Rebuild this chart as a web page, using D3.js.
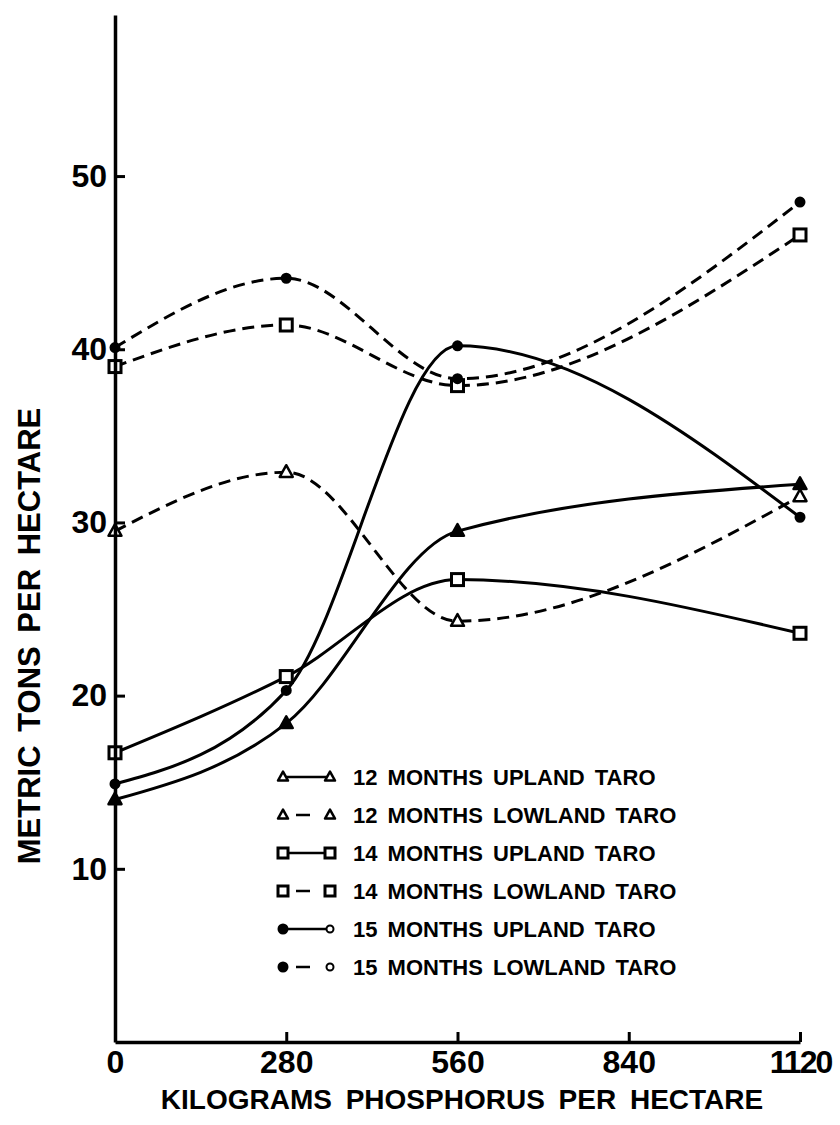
<!DOCTYPE html>
<html>
<head>
<meta charset="utf-8">
<script src="https://cdn.jsdelivr.net/npm/d3@7"></script>
<style>
  body { margin: 0; background: #fff; }
  svg { display: block; }
</style>
</head>
<body>
<script>
// phosphorus levels (kg/ha) where yields were measured
const doseLevels = [0, 280, 560, 1120];
const xTicks = [0, 280, 560, 840, 1120];
const yTicks = [10, 20, 30, 40, 50];

// yields, metric tons per hectare
const upland12 = [14.0, 18.4, 29.5, 32.2];
const lowland12 = [29.5, 32.9, 24.3, 31.5];
const upland14 = [16.7, 21.1, 26.7, 23.6];
const lowland14 = [39.0, 41.4, 37.9, 46.6];
const upland15 = [14.9, 20.3, 40.2, 30.3];
const lowland15 = [40.1, 44.1, 38.3, 48.5];

const seriesNames = [
  '12 MONTHS UPLAND TARO', '12 MONTHS LOWLAND TARO',
  '14 MONTHS UPLAND TARO', '14 MONTHS LOWLAND TARO',
  '15 MONTHS UPLAND TARO', '15 MONTHS LOWLAND TARO'
];

const series = [
  {name: seriesNames[0], values: upland12, dashed: false, mark: 'tri'},
  {name: seriesNames[1], values: lowland12, dashed: true, mark: 'tri'},
  {name: seriesNames[2], values: upland14, dashed: false, mark: 'sq'},
  {name: seriesNames[3], values: lowland14, dashed: true, mark: 'sq'},
  {name: seriesNames[4], values: upland15, dashed: false, mark: 'dot'},
  {name: seriesNames[5], values: lowland15, dashed: true, mark: 'dot'}
];

const width = 840;
const height = 1125;
const font = '"Liberation Sans", Arial, sans-serif';
const dash = '12,7';

const svg = d3.select('body').append('svg')
  .attr('width', width)
  .attr('height', height);

const x = d3.scaleLinear().domain([0, 1120]).range([115, 800]);
const y = d3.scaleLinear().domain([0, 59.3]).range([1042, 15]);

// draws one marker shape at (cx, cy)
const drawMark = (g, kind, cx, cy, filled, s) => {
  if (kind === 'tri') {
    const h = s * 0.9;
    g.append('path')
      .attr('d', `M${cx},${cy - h * 0.6}L${cx + s / 2},${cy + h * 0.4}L${cx - s / 2},${cy + h * 0.4}Z`)
      .attr('fill', filled ? '#000' : '#fff')
      .attr('stroke', '#000').attr('stroke-width', 2.5)
      .attr('stroke-linejoin', 'round');
  } else if (kind === 'sq') {
    g.append('rect')
      .attr('x', cx - s / 2).attr('y', cy - s / 2)
      .attr('width', s).attr('height', s)
      .attr('fill', filled ? '#000' : '#fff')
      .attr('stroke', '#000').attr('stroke-width', 3);
  } else {
    g.append('circle')
      .attr('cx', cx).attr('cy', cy).attr('r', s / 2)
      .attr('fill', filled ? '#000' : '#fff')
      .attr('stroke', '#000').attr('stroke-width', 2);
  }
};

// curves
const line = d3.line()
  .x((d, i) => x(doseLevels[i]))
  .y(d => y(d))
  .curve(d3.curveMonotoneX);

const plot = svg.append('g');
series.forEach(s => {
  plot.append('path')
    .attr('d', line(s.values))
    .attr('fill', 'none')
    .attr('stroke', '#000')
    .attr('stroke-width', 3)
    .attr('stroke-dasharray', s.dashed ? dash : null);
});

// markers on top of the curves
series.forEach(s => {
  s.values.forEach((v, i) => {
    const filled = s.mark === 'dot' || (s.mark === 'tri' && !s.dashed);
    const size = s.mark === 'dot' ? 9 : (s.mark === 'tri' ? 13 : 12);
    drawMark(plot, s.mark, x(doseLevels[i]), y(v), filled, size);
  });
});

// axes, ticks pointing into the plot like the original
const xAxis = d3.axisBottom(x)
  .tickValues(xTicks)
  .tickSizeInner(-10)
  .tickSizeOuter(0)
  .tickPadding(8)
  .tickFormat(d3.format('d'));
const yAxis = d3.axisLeft(y)
  .tickValues(yTicks)
  .tickSizeInner(-10)
  .tickSizeOuter(0)
  .tickPadding(8);

const xAxisG = svg.append('g')
  .attr('transform', `translate(0,${y(0)})`)
  .call(xAxis);
const yAxisG = svg.append('g')
  .attr('transform', `translate(${x(0)},0)`)
  .call(yAxis);

[xAxisG, yAxisG].forEach(g => {
  g.select('.domain').attr('stroke-width', 3.5).attr('stroke', '#000');
  g.selectAll('.tick line').attr('stroke-width', 3).attr('stroke', '#000');
  g.selectAll('.tick text')
    .attr('font-family', font)
    .attr('font-weight', 'bold')
    .attr('font-size', 32)
    .attr('fill', '#000');
});
// no tick drawn at the origin
xAxisG.selectAll('.tick').filter(d => d === 0).select('line').remove();
// the last label sits a little tighter in the original
xAxisG.selectAll('.tick text').filter(d => d === 1120).attr('letter-spacing', -2);

// axis titles
svg.append('text')
  .attr('x', 462)
  .attr('y', 1109)
  .attr('text-anchor', 'middle')
  .attr('font-family', font)
  .attr('font-weight', 'bold')
  .attr('font-size', 28)
  .attr('word-spacing', 6)
  .text('KILOGRAMS PHOSPHORUS PER HECTARE');

svg.append('text')
  .attr('transform', 'translate(40,636) rotate(-90)')
  .attr('text-anchor', 'middle')
  .attr('font-family', font)
  .attr('font-weight', 'bold')
  .attr('font-size', 31)
  .attr('word-spacing', 5)
  .text('METRIC TONS PER HECTARE');

// legend
const legend = svg.append('g').attr('transform', 'translate(278,777)');
series.forEach((s, i) => {
  const row = legend.append('g').attr('transform', `translate(0,${i * 38})`);
  row.append('line')
    .attr('x1', 6).attr('x2', 52)
    .attr('y1', 0).attr('y2', 0)
    .attr('stroke', '#000')
    .attr('stroke-width', 2.5)
    .attr('stroke-dasharray', s.dashed ? '0,12,14,20' : null);
  if (s.mark === 'dot') {
    drawMark(row, 'dot', 5, 0, true, 9);
    drawMark(row, 'dot', 52, 0, false, 7);
  } else {
    drawMark(row, s.mark, 5, 0, false, 10);
    drawMark(row, s.mark, 52, 0, false, 10);
  }
  row.append('text')
    .attr('x', 75)
    .attr('y', 8)
    .attr('font-family', font)
    .attr('font-weight', 'bold')
    .attr('font-size', 22)
    .attr('word-spacing', 4)
    .text(s.name);
});
</script>
</body>
</html>
